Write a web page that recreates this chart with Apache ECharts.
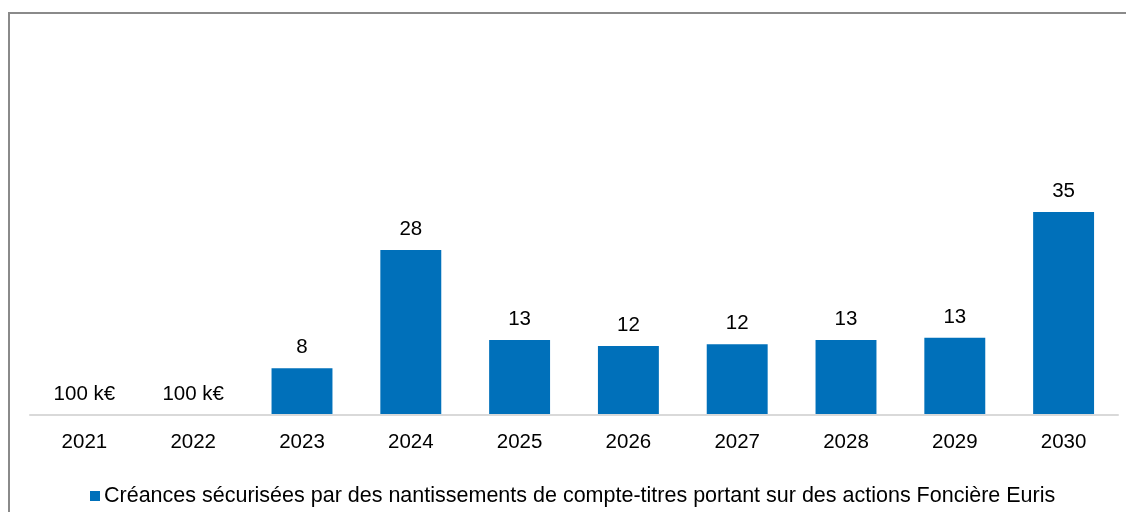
<!DOCTYPE html>
<html>
<head>
<meta charset="utf-8">
<script src="https://cdn.jsdelivr.net/npm/echarts@6/dist/echarts.min.js"></script>
<style>
  html, body { margin: 0; padding: 0; background: #fff; }
  #main { width: 1126px; height: 512px; }
</style>
</head>
<body>
<div id="main"></div>
<script>
    var years = ['2021', '2022', '2023', '2024', '2025', '2026', '2027', '2028', '2029', '2030'];
    // millions d'euros
    var creances = [0.1, 0.1, 8.0, 28.2, 12.8, 11.8, 12.1, 12.8, 13.2, 34.7];
    var labels = ['100 k€', '100 k€', '8', '28', '13', '12', '12', '13', '13', '35'];
    var seriesName = 'Créances sécurisées par des nantissements de compte-titres portant sur des actions Foncière Euris';

    var myChart = echarts.init(document.getElementById('main'));

    var option = {
        animation: false,
        textStyle: { fontFamily: 'Liberation Sans, Arial, sans-serif' },
        graphic: [{
            type: 'rect',
            shape: { x: 9, y: 13, width: 1300, height: 700 },
            style: { fill: 'none', stroke: '#8a8a8a', lineWidth: 2 }
        }],
        legend: {
            data: [seriesName],
            top: 480,
            left: 85,
            itemWidth: 10,
            itemHeight: 10,
            itemGap: 4,
            icon: 'rect',
            textStyle: { fontSize: 21.5, color: '#000', padding: [0, 0, 0, -1] }
        },
        grid: {
            left: 30,
            right: 8,
            top: 64,
            bottom: 97
        },
        xAxis: {
            type: 'category',
            data: years,
            z: 3,
            axisLine: { lineStyle: { color: '#d9d9d9', width: 2 } },
            axisTick: { show: false },
            axisLabel: { fontSize: 20.5, color: '#000', margin: 17 }
        },
        yAxis: {
            type: 'value',
            min: 0,
            max: 60,
            show: false,
            splitLine: { show: false }
        },
        series: [{
            name: seriesName,
            type: 'bar',
            data: creances,
            barWidth: '56%',
            itemStyle: { color: '#0070BA' },
            label: {
                show: true,
                position: 'top',
                distance: 10,
                fontSize: 20.5,
                color: '#000',
                formatter: function (p) {
                    return labels[p.dataIndex];
                }
            }
        }]
    };

    myChart.setOption(option);
</script>
</body>
</html>
